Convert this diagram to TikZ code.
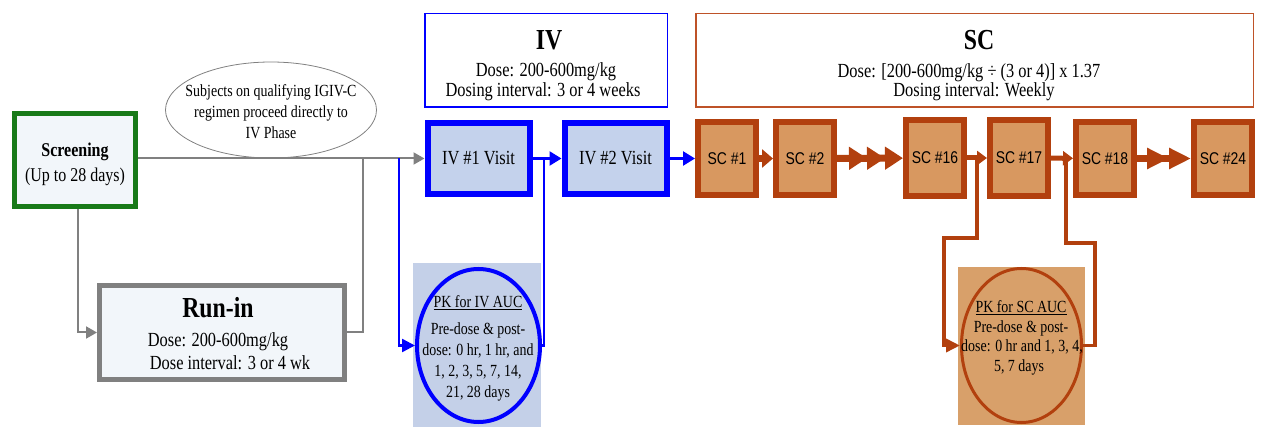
\documentclass[tikz,border=0pt]{standalone}
\usepackage{fontspec}
\setmainfont[FakeStretch=0.82]{Liberation Serif}
\newfontfamily\arialf[FakeStretch=0.82]{Liberation Sans}
\usetikzlibrary{arrows.meta,shapes.geometric}
\definecolor{grn}{RGB}{24,122,24}
\definecolor{gry}{RGB}{128,128,128}
\definecolor{blu}{RGB}{0,0,255}
\definecolor{brn}{RGB}{178,64,14}
\definecolor{brnh}{RGB}{190,82,40}
\definecolor{scfill}{RGB}{216,152,96}
\definecolor{pkscfill}{RGB}{216,160,106}
\definecolor{ivfill}{RGB}{196,210,236}
\definecolor{pkivfill}{RGB}{196,208,232}
\definecolor{palefill}{RGB}{242,246,250}
\begin{document}
\begin{tikzpicture}[x=1pt,y=-1pt,
  txt/.style={anchor=base, inner sep=0pt, font=\fontsize{20}{23}\selectfont},
  stxt/.style={anchor=base, inner sep=0pt, font=\fontsize{17}{20}\selectfont},
  btxt/.style={anchor=base, inner sep=0pt, font=\bfseries\fontsize{19.5}{23}\selectfont},
  htxt/.style={anchor=base, inner sep=0pt, font=\bfseries\fontsize{29}{33}\selectfont},
  box/.style={draw, rectangle, inner sep=0pt},
  ivbox/.style={box, draw=blu, line width=6pt, fill=ivfill, minimum width=102pt, minimum height=71pt, font=\fontsize{20}{23}\selectfont},
  scbox/.style={box, draw=brn, line width=6pt, fill=scfill, minimum width=58pt, minimum height=73pt, font=\arialf\fontsize{17}{20}\selectfont},
  gline/.style={draw=gry, line width=2pt},
  garrow/.style={gline, -{Triangle[length=11pt,width=12pt]}},
  bline/.style={draw=blu, line width=2.5pt},
  barrow/.style={bline, -{Triangle[length=12pt,width=14pt]}},
  brline/.style={draw=brn, line width=3.5pt},
  brmid/.style={draw=brn, line width=5pt, -{Triangle[length=10pt,width=14pt]}},
  brthick/.style={draw=brn, line width=7pt}
]
\useasboundingbox (0,0) rectangle (1262,430);

% Screening
\node[box, draw=grn, line width=5pt, fill=palefill, minimum width=121pt, minimum height=93pt] (screening) at (75,160) {};
\node[btxt] (scr1) at (75,157) {Screening};
\node[anchor=base, inner sep=0pt, font=\fontsize{19.5}{23}\selectfont] (scr2) at (75,182) {(Up to 28 days)};

% Run-in
\node[box, draw=gry, line width=5pt, fill=palefill, minimum width=245pt, minimum height=94pt] (runin) at (222,332.5) {};
\node[htxt] (run1) at (218,318) {Run-in};
\node[txt] (run2) at (218,347) {Dose: 200-600mg/kg};
\node[txt] (run3) at (230,370) {Dose interval: 3 or 4 wk};

% Note ellipse
\node[draw=gry, line width=0.8pt, ellipse, minimum width=211pt, minimum height=96pt, inner sep=0pt] (note) at (271,110) {};
\node[stxt] (n1) at (271,97) {Subjects on qualifying IGIV-C};
\node[stxt] (n2) at (271,118) {regimen proceed directly to};
\node[stxt] (n3) at (271,139) {IV Phase};

% IV header
\node[box, draw=blu, line width=1.5pt, minimum width=242.5pt, minimum height=93.5pt] (ivhead) at (546,60.5) {};
\node[htxt] (iv0) at (549,50) {IV};
\node[txt] (iva) at (546,77) {Dose: 200-600mg/kg};
\node[txt] (ivb) at (543,97) {Dosing interval: 3 or 4 weeks};

% SC header
\node[box, draw=brnh, line width=1.5pt, minimum width=557.5pt, minimum height=93.5pt] (schead) at (974.5,60.5) {};
\node[htxt] (sc0) at (979,50) {SC};
\node[txt] (sca) at (969,78) {Dose: [200-600mg/kg ÷ (3 or 4)] x 1.37};
\node[txt] (scb) at (974,97) {Dosing interval: Weekly};

% IV visits
\node[ivbox] (iv1) at (478.5,158.5) {IV \#1 Visit};
\node[ivbox] (iv2) at (615.5,158.5) {IV \#2 Visit};

% SC visits
\node[scbox] (sc1) at (727,158.5) {SC \#1};
\node[scbox] (sc2) at (805,158.5) {SC \#2};
\node[scbox, minimum height=76pt] (sc16) at (935,158) {SC \#16};
\node[scbox, minimum height=76pt] (sc17) at (1019,158) {SC \#17};
\node[scbox] (sc18) at (1105,158.5) {SC \#18};
\node[scbox] (sc24) at (1223,158.5) {SC \#24};

% PK IV
\node[fill=pkivfill, minimum width=128pt, minimum height=164pt, inner sep=0pt] (pkivbg) at (477,345) {};
\node[draw=blu, line width=4pt, ellipse, minimum width=123pt, minimum height=153pt, inner sep=0pt] (pkiv) at (478.5,345.5) {};
\node[stxt] (p1) at (478,308) {\underline{PK for IV AUC}};
\node[stxt] (p2) at (478,335) {Pre-dose \& post-};
\node[stxt] (p3) at (478,356) {dose: 0 hr, 1 hr, and};
\node[stxt] (p4) at (478,377) {1, 2, 3, 5, 7, 14,};
\node[stxt] (p5) at (478,398) {21, 28 days};

% PK SC
\node[fill=pkscfill, minimum width=127pt, minimum height=158pt, inner sep=0pt] (pkscbg) at (1021.5,346) {};
\node[draw=brn, line width=3pt, ellipse, minimum width=120pt, minimum height=154pt, inner sep=0pt] (pksc) at (1021.5,345.5) {};
\node[stxt] (q1) at (1021,313) {\underline{PK for SC AUC}};
\node[stxt] (q2) at (1021,333) {Pre-dose \& post-};
\node[stxt] (q3) at (1022,352) {dose: 0 hr and 1, 3, 4,};
\node[stxt] (q4) at (1019,372) {5, 7 days};

% junction coordinates
\coordinate (j1) at (363,158.5);
\coordinate (j2) at (399,158.5);
\coordinate (j3) at (544,158.5);
\coordinate (j4) at (977,158);
\coordinate (k4) at (944,238);
\coordinate (j5) at (1066,158);
\coordinate (k5) at (1095,243);

% gray connectors
\draw[garrow] (screening.east |- iv1.west) -- (iv1.west);
\draw[garrow] ([xshift=3pt]screening.south) |- (runin.west);
\draw[gline] (runin.east) -| (j1);

% blue connectors
\draw[bline, -{Triangle[length=13pt,width=13pt]}] (j2) |- (pkiv.west);
\draw[barrow] (iv1) -- (iv2);
\draw[bline] (j3) |- (pkiv.east);
\draw[barrow] (iv2) -- (sc1);

% brown connectors
\draw[brthick, -{Triangle[length=11pt,width=18pt]}] (sc1) -- (sc2);
\draw[brthick, -{Triangle[length=18pt,width=22pt] Triangle[length=18pt,width=22pt] Triangle[length=18pt,width=22pt]}] (sc2) -- (sc16);
\draw[brmid] (sc16) -- (sc17);
\draw[brmid] (sc17) -- (sc18);
\draw[brthick, -{Triangle[length=22pt,width=20pt] Triangle[length=22pt,width=20pt]}] (sc18) -- (sc24);
\draw[brline, -{Triangle[length=14pt,width=13pt]}] (j4) |- (k4) |- (pksc.west);
\draw[brline] (j5) |- (k5) |- (pksc.east);
\end{tikzpicture}
\end{document}
